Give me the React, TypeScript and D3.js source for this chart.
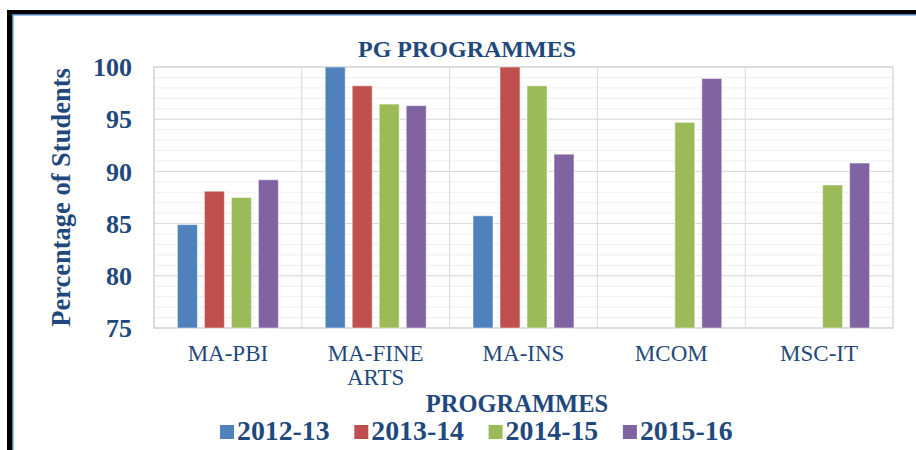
import React from 'react'
import * as d3 from 'd3'

const categories = ['MA-PBI', 'MA-FINE ARTS', 'MA-INS', 'MCOM', 'MSC-IT']
const seriesNames = ['2012-13', '2013-14', '2014-15', '2015-16']
const values2012 = [84.9, 100, 85.75, null, null]
const values2013 = [88.1, 98.2, 100, null, null]
const values2014 = [87.5, 96.45, 98.2, 94.7, 88.7]
const values2015 = [89.2, 96.3, 91.65, 98.9, 90.8]
const yTicks = [75, 80, 85, 90, 95, 100]

const colors = ['#4F81BD', '#C0504D', '#9BBB59', '#8064A2']
const textColor = '#1F497D'
const FONT = 'Liberation Serif'

const W = 916
const H = 450
const margin = { top: 67, right: 23, bottom: 122, left: 154 }

function Label({ size, bold, anchor, ...rest }: any) {
  return (
    <text
      {...rest}
      fontFamily={FONT}
      fontSize={size}
      fontWeight={bold ? 'bold' : 'normal'}
      textAnchor={anchor || 'start'}
      fill={textColor}
      style={{ fontFamily: `"${FONT}", monospace`, fontSize: size + 'px' }}
    />
  )
}

export default function App() {
  const series = [values2012, values2013, values2014, values2015]
  const plotW = W - margin.left - margin.right
  const plotH = H - margin.top - margin.bottom

  const x = d3.scaleBand().domain(categories).range([margin.left, margin.left + plotW]).padding(0)
  const xInner = d3
    .scaleBand()
    .domain(seriesNames)
    .range([0, x.bandwidth()])
    .paddingInner(0.26)
    .paddingOuter(0.867)
  const y = d3.scaleLinear().domain([75, 100]).range([margin.top + plotH, margin.top])
  const minorTicks = d3.range(75, 101, 1)

  const bottom = margin.top + plotH
  const right = margin.left + plotW

  return (
    <svg width={W} height={H} style={{ position: 'absolute', left: 0, top: 0 }}>
      {/* frame */}
      <rect x={0} y={0} width={W} height={H} fill="#fff" />
      <line x1={9.5} y1={10} x2={9.5} y2={H} stroke="#000" strokeWidth={5} />
      <line x1={7} y1={12} x2={W} y2={12} stroke="#000" strokeWidth={4} />
      <line x1={12.75} y1={14} x2={12.75} y2={H} stroke="#4F81BD" strokeWidth={1.5} />
      <line x1={12} y1={14.75} x2={W} y2={14.75} stroke="#4F81BD" strokeWidth={1.5} />

      {/* grid */}
      {minorTicks.map((t) => (
        <line key={'m' + t} x1={margin.left} x2={right} y1={y(t)} y2={y(t)} stroke="#F0F0F0" strokeWidth={1} />
      ))}
      {yTicks.map((t) => (
        <line key={'g' + t} x1={margin.left} x2={right} y1={y(t)} y2={y(t)} stroke="#D9D9D9" strokeWidth={1} />
      ))}
      {categories.map((c) => (
        <line key={'v' + c} x1={x(c)} x2={x(c)} y1={margin.top} y2={bottom} stroke="#D9D9D9" strokeWidth={1} />
      ))}
      <rect x={margin.left} y={margin.top} width={plotW} height={plotH} fill="none" stroke="#D9D9D9" strokeWidth={1.5} />

      {/* bars */}
      {series.map((vals, si) =>
        vals.map((v, ci) =>
          v == null ? null : (
            <rect
              key={si + '-' + ci}
              x={(x(categories[ci]) || 0) + (xInner(seriesNames[si]) || 0)}
              y={y(v)}
              width={xInner.bandwidth()}
              height={bottom - y(v)}
              fill={colors[si]}
              stroke="#ffffff"
              strokeOpacity={0.5}
              strokeWidth={1}
            />
          )
        )
      )}

      {/* y tick labels */}
      {yTicks.map((t) => (
        <Label key={'t' + t} x={132} y={y(t)} dy="0.35em" anchor="end" size={26} bold>
          {t}
        </Label>
      ))}

      {/* category labels */}
      {categories.map((c) => (
        <Label key={'c' + c} x={(x(c) || 0) + x.bandwidth() / 2} y={361} anchor="middle" size={23}>
          {c.split(' ').map((line, i) => (
            <tspan key={i} x={(x(c) || 0) + x.bandwidth() / 2} dy={i === 0 ? 0 : 24}>
              {line}
            </tspan>
          ))}
        </Label>
      ))}

      {/* titles */}
      <Label x={467} y={57} anchor="middle" size={24} bold>
        PG PROGRAMMES
      </Label>
      <Label x={517} y={412} anchor="middle" size={24.5} bold>
        PROGRAMMES
      </Label>
      <Label transform={`translate(70,${(margin.top + bottom) / 2}) rotate(-90)`} anchor="middle" size={26.5} bold>
        Percentage of Students
      </Label>

      {/* legend */}
      {seriesNames.map((s, i) => {
        const lx = 220 + i * 134.3
        return (
          <g key={'l' + s} transform={`translate(${lx},0)`}>
            <rect x={0} y={425} width={14} height={14} fill={colors[i]} />
            <Label x={17} y={440} size={27.8} bold>
              {s}
            </Label>
          </g>
        )
      })}
    </svg>
  )
}
